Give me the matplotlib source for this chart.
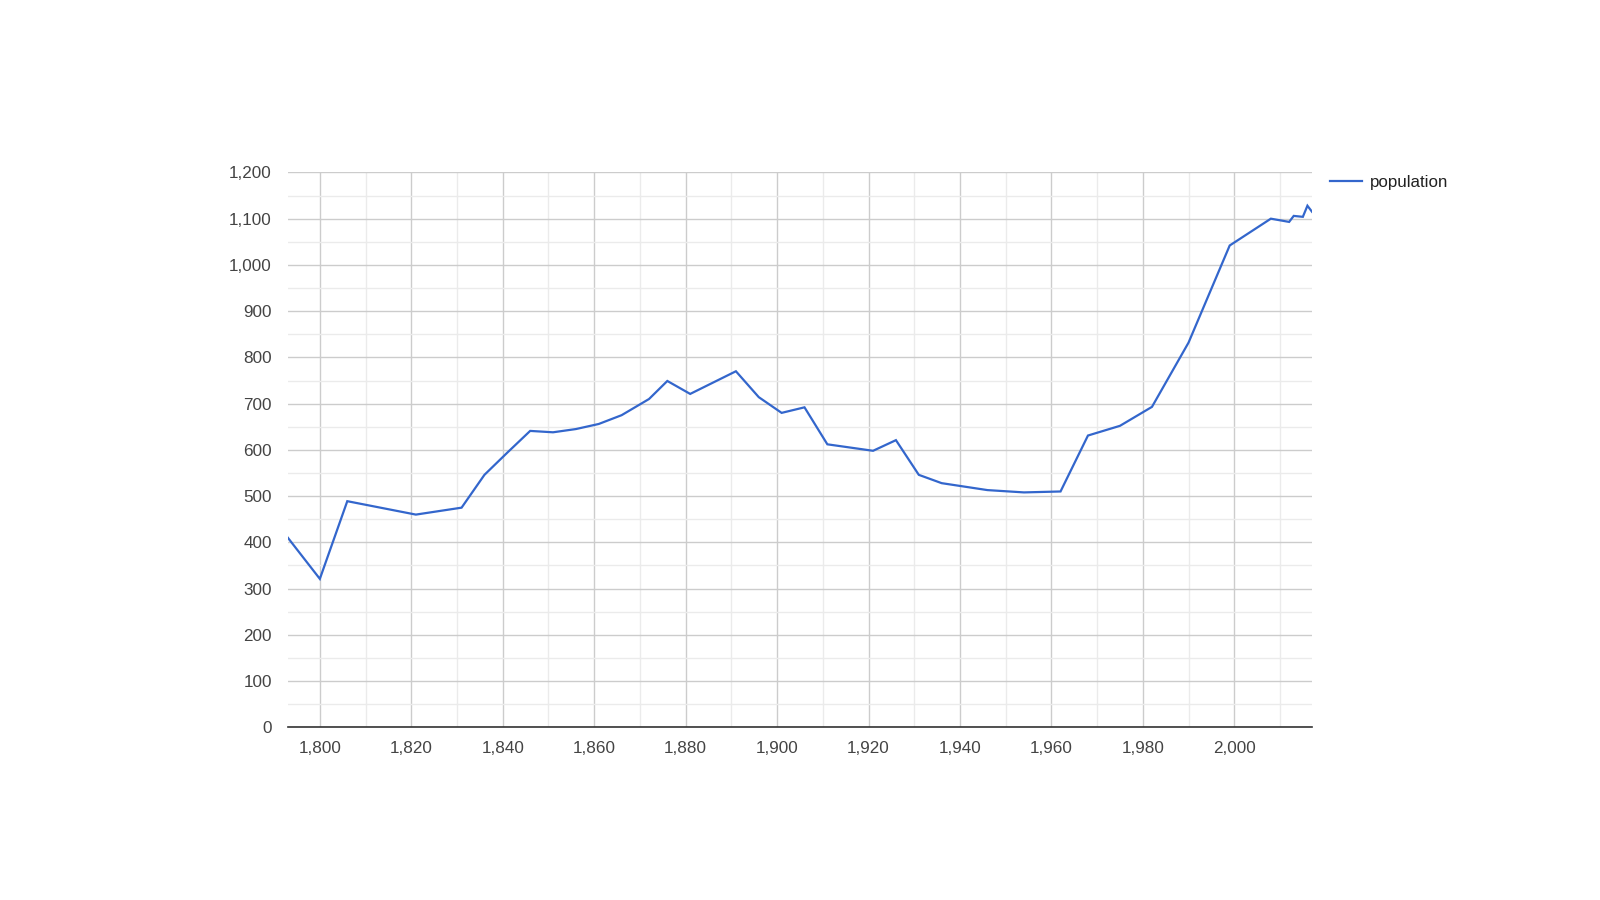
import matplotlib
matplotlib.use("Agg")
import matplotlib.pyplot as plt
from matplotlib.ticker import FuncFormatter, MultipleLocator

years = [1793, 1800, 1806, 1821, 1831, 1836, 1841, 1846, 1851, 1856, 1861, 1866,
         1872, 1876, 1881, 1891, 1896, 1901, 1906, 1911, 1921, 1926, 1931, 1936,
         1946, 1954, 1962, 1968, 1975, 1982, 1990, 1999, 2008, 2012, 2013, 2015,
         2016, 2017]
population = [410, 321, 489, 460, 475, 546, 594, 641, 638, 645, 656, 675,
              710, 749, 721, 770, 714, 680, 692, 612, 598, 621, 546, 528,
              513, 508, 510, 631, 652, 693, 832, 1042, 1100, 1093, 1106, 1104,
              1128, 1115]
series_name = "population"
y_ticks = list(range(0, 1201, 100))
x_ticks = list(range(1800, 2001, 20))

plt.rcParams['font.family'] = ['Liberation Sans', 'DejaVu Sans']

fig = plt.figure(figsize=(16, 9), dpi=100)
ax = fig.add_axes([0.1799, 0.1919, 0.8200 - 0.1799, 0.8084 - 0.1919])

ax.plot(years, population, color='#3366cc', linewidth=1.6, label=series_name,
        solid_joinstyle='miter', zorder=3)

ax.set_xlim(1793, 2017)
ax.set_ylim(0, 1200)
ax.set_yticks(y_ticks)
ax.set_xticks(x_ticks)
ax.yaxis.set_minor_locator(MultipleLocator(50))
ax.xaxis.set_minor_locator(MultipleLocator(10))
fmt = FuncFormatter(lambda v, p: f"{int(v):,}")
ax.xaxis.set_major_formatter(fmt)
ax.yaxis.set_major_formatter(fmt)

ax.grid(which='major', color='#cccccc', linewidth=1.0, zorder=0)
ax.grid(which='minor', color='#ebebeb', linewidth=1.0, zorder=0)
ax.set_axisbelow(True)
for s in ['top', 'right', 'left']:
    ax.spines[s].set_visible(False)
ax.spines['bottom'].set_color('#333333')
ax.spines['bottom'].set_linewidth(1.2)
ax.spines['bottom'].set_zorder(4)

ax.tick_params(which='both', length=0)
ax.tick_params(axis='y', labelsize=12.3, labelcolor='#444444', pad=11.5)
ax.tick_params(axis='x', labelsize=12.3, labelcolor='#444444', pad=10)

fig.legend(loc='upper left', bbox_to_anchor=(0.8215, 0.8222), frameon=False,
           handlelength=1.9, handletextpad=0.45, fontsize=12.2,
           labelcolor='#222222')

fig.savefig('out.png', dpi=100, facecolor='white')
